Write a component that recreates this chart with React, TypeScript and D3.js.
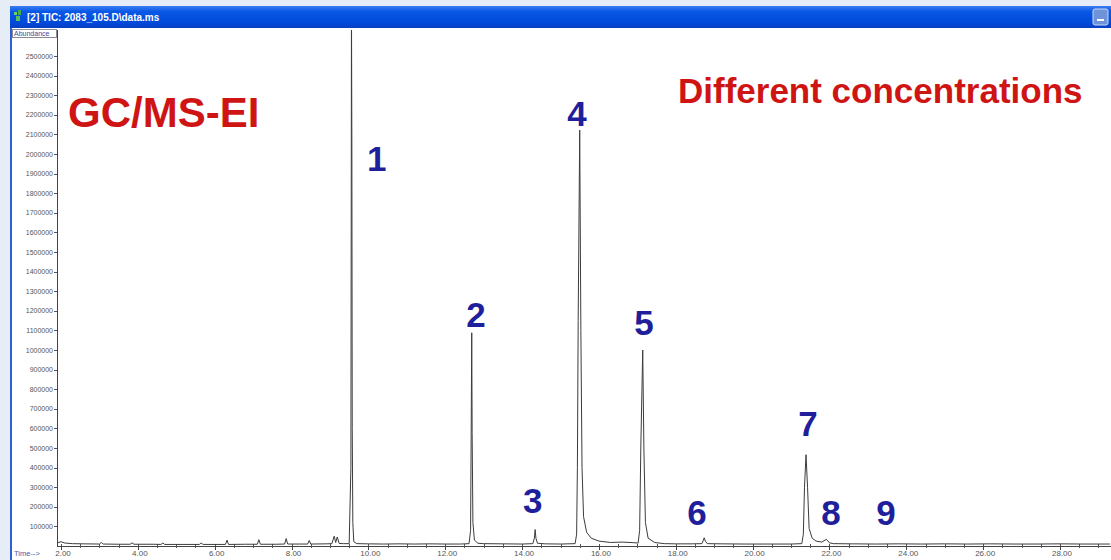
import React from "react";
import * as d3 from "d3";

// Total ion chromatogram (TIC) trace: retention time in minutes
const traceTime = [
  1.9, 2.0, 2.1, 2.3, 2.6, 3.0, 3.05, 3.1, 3.5, 3.8, 3.85, 3.9, 4.4, 4.6, 4.65, 4.7, 5.2, 5.6, 5.65, 5.7,
  6.28, 6.32, 6.36, 6.8, 7.11, 7.15, 7.19, 7.6, 7.82, 7.86, 7.9, 8.2, 8.42, 8.46, 8.5, 8.9, 9.05, 9.11,
  9.15, 9.19, 9.24, 9.35, 9.5, 9.545, 9.56, 9.57, 9.58, 9.595, 9.62, 9.7, 10.0, 10.4, 10.8, 11.2, 11.6,
  12.0, 12.4, 12.62, 12.66, 12.675, 12.69, 12.70, 12.72, 12.76, 12.85, 13.0, 13.5, 14.0, 14.28, 14.32,
  14.34, 14.36, 14.40, 14.6, 15.0, 15.38, 15.42, 15.44, 15.46, 15.50, 15.53, 15.56, 15.60, 15.68, 15.8,
  16.0, 16.3, 16.6, 16.9, 17.02, 17.06, 17.09, 17.14, 17.17, 17.21, 17.28, 17.45, 17.7, 18.0, 18.4,
  18.68, 18.72, 18.74, 18.77, 18.82, 19.2, 19.8, 20.4, 21.0, 21.28, 21.32, 21.35, 21.39, 21.43, 21.47,
  21.55, 21.65, 21.8, 21.92, 22.0, 22.1, 22.6, 23.2, 23.8, 24.4, 25.0, 25.6, 26.2, 26.8, 27.4, 28.0,
  28.6, 29.3,
];

// TIC abundance at each retention time
const traceAbundance = [
  16000, 22000, 15000, 12000, 11000, 10000, 18000, 10000, 9000, 9000, 16000, 9000, 9000, 8000, 15000,
  8000, 8000, 8000, 15000, 8000, 8000, 30000, 8000, 9000, 9000, 32000, 9000, 9000, 10000, 38000, 10000,
  10000, 10000, 28000, 10000, 11000, 12000, 50000, 18000, 46000, 13000, 12000, 12000, 400000, 2750000,
  2050000, 600000, 120000, 22000, 12000, 11000, 10000, 11000, 10000, 11000, 10000, 10000, 12000, 80000,
  560000, 1088000, 580000, 120000, 30000, 14000, 12000, 11000, 10000, 12000, 40000, 84000, 40000, 14000,
  11000, 10000, 12000, 60000, 400000, 1150000, 2122000, 1100000, 400000, 150000, 70000, 40000, 25000,
  18000, 20000, 17000, 15000, 80000, 500000, 1000000, 500000, 120000, 40000, 18000, 12000, 11000, 11000,
  12000, 30000, 42000, 25000, 12000, 11000, 10000, 10000, 10000, 12000, 60000, 300000, 466000, 300000,
  90000, 40000, 25000, 20000, 34000, 16000, 12000, 11000, 10000, 11000, 10000, 11000, 10000, 11000,
  10000, 10000, 11000, 10000, 10000,
];

// Peak numbers and where each number sits (time, abundance)
const peakIds = ["1", "2", "3", "4", "5", "6", "7", "8", "9"];
const labelTimes = [10.22, 12.8, 14.28, 15.43, 17.17, 18.55, 21.44, 22.04, 23.47];
const labelLevels = [1913000, 1117000, 168000, 2143000, 1077000, 107000, 561000, 107000, 107000];

// Axis ticks
const yTickValues = [
  100000, 200000, 300000, 400000, 500000, 600000, 700000, 800000, 900000, 1000000, 1100000, 1200000,
  1300000, 1400000, 1500000, 1600000, 1700000, 1800000, 1900000, 2000000, 2100000, 2200000, 2300000,
  2400000, 2500000,
];
const xTickValues = [2, 4, 6, 8, 10, 12, 14, 16, 18, 20, 22, 24, 26, 28];

const W = 1111;
const H = 560;
const plot = { left: 57, right: 1111, top: 30, bottom: 546 };

export default function App() {
  const x = d3.scaleLinear().domain([2, 28]).range([61, 1060]);
  const y = d3.scaleLinear().domain([0, 100000]).range([546, 526.4]);

  const points: [number, number][] = traceTime.map((t, i) => [t, traceAbundance[i]]);
  const line = d3
    .line<[number, number]>()
    .x((d) => x(d[0]))
    .y((d) => y(d[1]));

  const minorTicks = d3.range(2, 29.5, 0.5).filter((t) => x(t) > plot.left && x(t) < W);
  const fmtX = d3.format(".2f");

  return (
    <svg
      width={W}
      height={H}
      style={{ position: "absolute", left: 0, top: 0 }}
      fontFamily="'Liberation Sans', Arial, sans-serif"
    >
      <defs>
        <linearGradient id="titlebar" x1="0" y1="0" x2="0" y2="1">
          <stop offset="0" stopColor="#3b7ef5" />
          <stop offset="0.25" stopColor="#0a58e6" />
          <stop offset="0.8" stopColor="#0048d8" />
          <stop offset="1" stopColor="#0a3fc0" />
        </linearGradient>
        <clipPath id="plotClip">
          <rect x={plot.left} y={plot.top} width={plot.right - plot.left} height={plot.bottom - plot.top + 2} />
        </clipPath>
      </defs>

      {/* desktop background and window */}
      <rect x={0} y={0} width={W} height={H} fill="#e7edf7" />
      <rect x={10} y={28} width={W - 10} height={H - 28} fill="#ffffff" />
      <rect x={10} y={6} width={2} height={H - 6} fill="#2e5fd6" />

      {/* title bar */}
      <rect x={10} y={6} width={W - 10} height={22} fill="url(#titlebar)" />
      <g transform="translate(14,10)">
        <rect x={0} y={2} width={3} height={3} fill="#6bd06b" />
        <rect x={4} y={0} width={3} height={5} fill="#44b044" />
        <rect x={2} y={6} width={4} height={5} fill="#58c058" />
      </g>
      <text x={27} y={21} fill="#ffffff" fontSize={10} fontWeight="bold">
        [2] TIC: 2083_105.D\data.ms
      </text>
      <rect x={1093} y={9} width={15} height={16} rx={2} fill="#6f93d8" stroke="#c9d8f4" strokeWidth={1} />
      <rect x={1097} y={19} width={7} height={2} fill="#ffffff" />

      {/* Abundance caption box */}
      <rect x={12.5} y={29.5} width={44} height={8} fill="#ffffff" stroke="#8a8a9a" strokeWidth={1} />
      <text x={14} y={36} fontSize={7} fill="#3b4aa0">
        Abundance
      </text>

      {/* y axis */}
      <line x1={plot.left + 0.5} x2={plot.left + 0.5} y1={plot.top} y2={plot.bottom} stroke="#444" />
      {yTickValues.map((v) => (
        <g key={v}>
          <line x1={plot.left - 3} x2={plot.left} y1={Math.round(y(v)) + 0.5} y2={Math.round(y(v)) + 0.5} stroke="#555" />
          <text x={plot.left - 4} y={y(v) + 2.5} fontSize={7} fill="#555" textAnchor="end">
            {v}
          </text>
        </g>
      ))}

      {/* x axis */}
      <line x1={plot.left} x2={W} y1={plot.bottom + 0.5} y2={plot.bottom + 0.5} stroke="#444" />
      {minorTicks.map((t) => (
        <line key={t} x1={Math.round(x(t)) + 0.5} x2={Math.round(x(t)) + 0.5} y1={plot.bottom - 2} y2={plot.bottom + 2} stroke="#555" />
      ))}
      {xTickValues.map((t) => (
        <g key={t}>
          <line x1={Math.round(x(t)) + 0.5} x2={Math.round(x(t)) + 0.5} y1={plot.bottom} y2={plot.bottom + 4} stroke="#444" />
          <text x={x(t) + 2} y={556} fontSize={8} fill="#555" textAnchor="middle">
            {fmtX(t)}
          </text>
        </g>
      ))}
      <text x={14} y={556} fontSize={7.5} fill="#4a5ab0">
        Time--&gt;
      </text>

      {/* chromatogram trace */}
      <path d={line(points) ?? ""} fill="none" stroke="#3c3c3c" strokeWidth={1} clipPath="url(#plotClip)" />

      {/* annotations */}
      <text x={68} y={127} fontSize={42} fontWeight="bold" fill="#cf1414">
        GC/MS-EI
      </text>
      <text x={678} y={103} fontSize={35} fontWeight="bold" fill="#cf1414">
        Different concentrations
      </text>
      {peakIds.map((id, i) => (
        <text
          key={id}
          x={x(labelTimes[i])}
          y={y(labelLevels[i])}
          fontSize={35}
          fontWeight="bold"
          fill="#1f1f9c"
          textAnchor="middle"
        >
          {id}
        </text>
      ))}
    </svg>
  );
}
